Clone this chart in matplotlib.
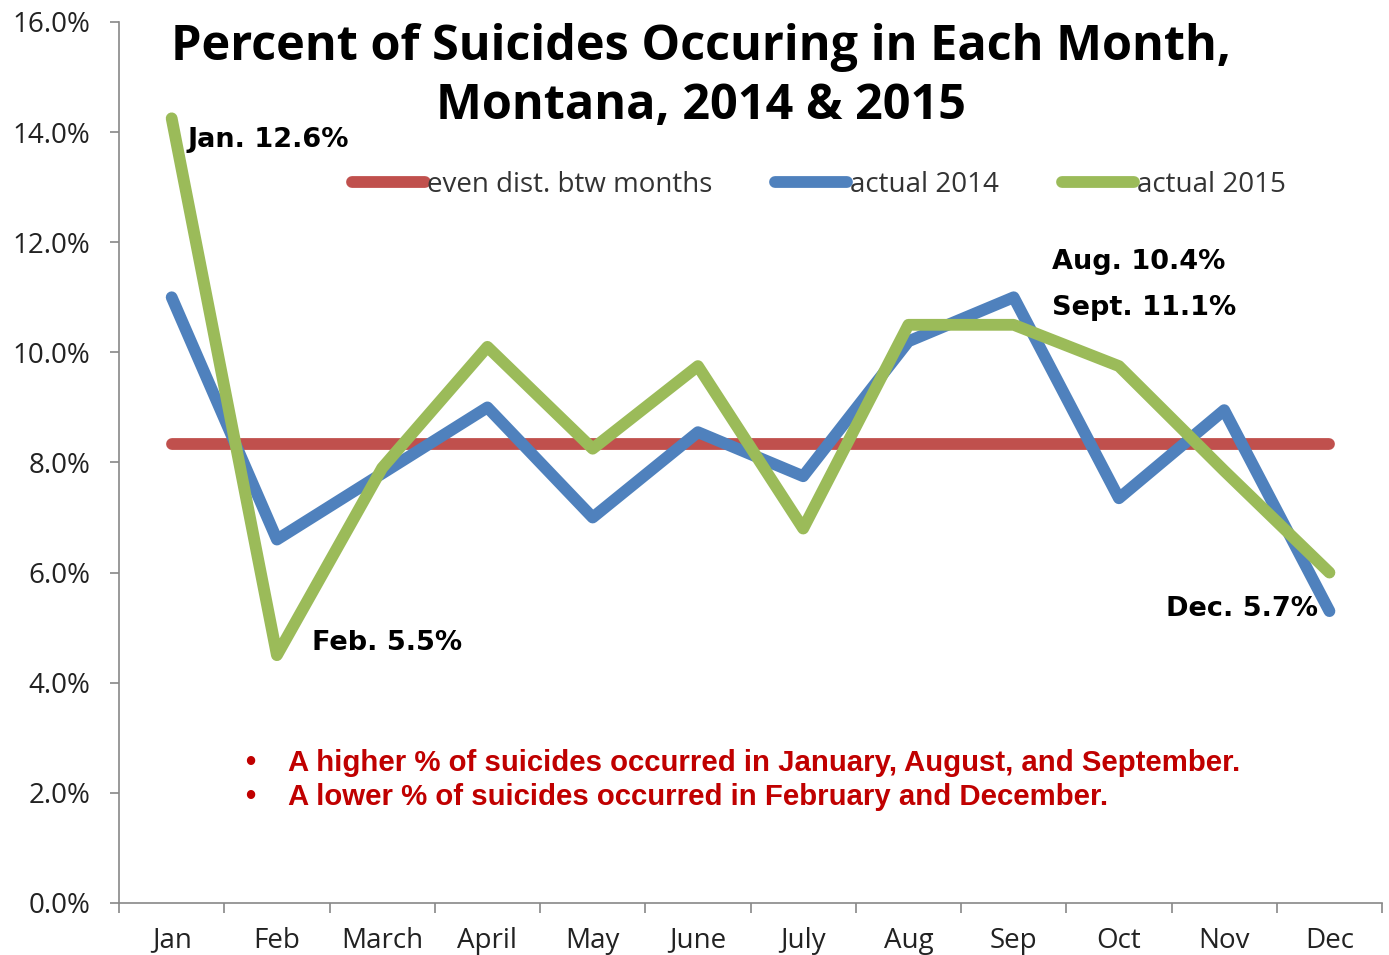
import matplotlib
matplotlib.use("Agg")
import matplotlib.pyplot as plt

# data (percent)
months = ['Jan', 'Feb', 'March', 'April', 'May', 'June', 'July', 'Aug', 'Sep', 'Oct', 'Nov', 'Dec']
even_dist = [100 / 12] * 12
actual_2014 = [11.0, 6.6, 7.8, 9.0, 7.0, 8.55, 7.75, 10.2, 11.0, 7.35, 8.95, 5.3]
actual_2015 = [14.25, 4.5, 7.9, 10.1, 8.25, 9.75, 6.8, 10.5, 10.5, 9.75, 7.85, 6.0]

fig = plt.figure(figsize=(13.89, 9.55), dpi=100)
ax = fig.add_axes([0.0857, 0.0545, 0.9093, 0.9225])

x = range(len(months))
lw = 8.5
ax.plot(x, even_dist, color='#C0504D', lw=lw, solid_capstyle='round', solid_joinstyle='round',
        label='even dist. btw months')
ax.plot(x, actual_2014, color='#4F81BD', lw=lw, solid_capstyle='round', solid_joinstyle='round',
        label='actual 2014')
ax.plot(x, actual_2015, color='#9BBB59', lw=lw, solid_capstyle='round', solid_joinstyle='round',
        label='actual 2015')

ax.set_xlim(-0.5, 11.5)
ax.set_ylim(0, 16)

# month labels centred, tick marks on the category boundaries
ax.set_xticks(list(x))
ax.set_xticklabels(months, fontsize=20, family='Open Sans', color='#222222')
ax.tick_params(axis='x', which='major', length=0, pad=17)
ax.set_xticks([i - 0.5 for i in range(13)], minor=True)
ax.tick_params(axis='x', which='minor', length=7, width=1.2, color='#888888')

ax.set_yticks([0, 2, 4, 6, 8, 10, 12, 14, 16])
ax.set_yticklabels(['%.1f%%' % v for v in [0, 2, 4, 6, 8, 10, 12, 14, 16]],
                   fontsize=20, family='Open Sans', color='#222222')
ax.tick_params(axis='y', length=6.5, width=1.2, color='#888888', pad=14)

for s in ['top', 'right']:
    ax.spines[s].set_visible(False)
for s in ['left', 'bottom']:
    ax.spines[s].set_color('#888888')
    ax.spines[s].set_linewidth(1.2)

# two-line title, one text per line
title = dict(ha='center', va='center', fontsize=35, fontweight='bold', family='Open Sans')
fig.text(0.505, 0.950, 'Percent of Suicides Occuring in Each Month,', **title)
fig.text(0.505, 0.888, 'Montana, 2014 & 2015', **title)

leg = fig.legend(loc='center', bbox_to_anchor=(0.5896, 0.8063), ncol=3, frameon=False,
                 prop={'family': 'Open Sans', 'size': 20},
                 handlelength=2.6, handletextpad=0.1, columnspacing=2.25)
for t in leg.get_texts():
    t.set_color('#333333')

# callouts
note = dict(fontsize=19.5, fontweight='bold', family='DejaVu Sans', va='center', ha='left')
ax.text(0.15, 13.85, 'Jan. 12.6%', **note)
ax.text(1.33, 4.72, 'Feb. 5.5%', **note)
ax.text(8.36, 11.64, 'Aug. 10.4%', **note)
ax.text(8.36, 10.81, 'Sept. 11.1%', **note)
ax.text(9.45, 5.34, 'Dec. 5.7%', **note)

bullets = ['A higher % of suicides occurred in January, August, and September.',
           'A lower % of suicides occurred in February and December.']
bullet_y = [2.54, 1.93]
red = dict(fontsize=21.2, fontweight='bold', family='Liberation Sans',
           color='#C00000', va='center', ha='left')
for txt, yy in zip(bullets, bullet_y):
    ax.text(0.70, yy, '\u2022', **red)
    ax.text(1.11, yy, txt, **red)

fig.savefig('out.png', dpi=100)
